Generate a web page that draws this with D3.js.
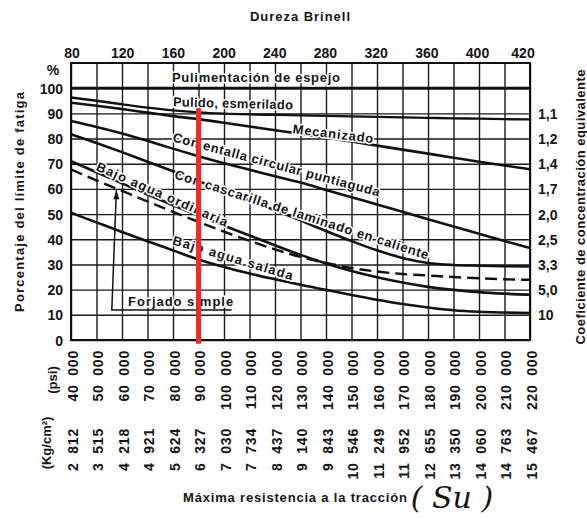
<!DOCTYPE html>
<html>
<head>
<meta charset="utf-8">
<script src="https://cdn.jsdelivr.net/npm/d3@7"></script>
<style>
  body { margin: 0; background: #fff; }
  svg text { font-family: "Liberation Sans", Arial, sans-serif; font-weight: bold; fill: #141414; }
</style>
</head>
<body>
<div id="container"></div>
<script>
// tensile strength grid (psi) and its kg/cm2 equivalents
const psiTicks = d3.range(40000, 220001, 10000);
const kgLabels = ["2 812", "3 515", "4 218", "4 921", "5 624", "6 327", "7 030", "7 734", "8 437", "9 140",
  "9 843", "10 546", "11 249", "11 952", "12 655", "13 350", "14 060", "14 763", "15 467"];
const brinellTicks = [80, 120, 160, 200, 240, 280, 320, 360, 400];
const brinellLast = 420;
const pctTicks = [0, 10, 20, 30, 40, 50, 60, 70, 80, 90, 100];
const coefTicks = [90, 80, 70, 60, 50, 40, 30, 20, 10];
const coefLabels = ["1,1", "1,2", "1,4", "1,7", "2,0", "2,5", "3,3", "5,0", "10"];

// percent of fatigue limit, one value per psiTicks entry
const espejo = [100, 100, 100, 100, 100, 100, 100, 100, 100, 100, 100, 100, 100, 100, 100, 100, 100, 100, 100];
const pulido = [96.3, 95.0, 93.6, 92.3, 91.2, 90.4, 89.9, 89.6, 89.4, 89.2, 89.0, 88.8, 88.6, 88.4, 88.2, 88.0, 87.9, 87.7, 87.6];
const mecanizado = [94.2, 93.0, 91.7, 90.3, 88.9, 87.7, 86.3, 84.8, 83.3, 81.9, 80.4, 78.8, 77.2, 75.6, 74.0, 72.4, 70.8, 69.3, 67.8];
const entalla = [87.0, 84.6, 82.0, 79.1, 76.0, 73.0, 70.2, 67.6, 65.0, 62.5, 59.6, 56.7, 53.8, 50.9, 48.0, 45.1, 42.2, 39.3, 36.5];
const cascarilla = [81.7, 78.2, 74.6, 70.8, 67.0, 63.1, 59.3, 55.4, 51.5, 47.5, 43.3, 39.3, 35.6, 32.6, 30.6, 29.8, 29.5, 29.3, 29.2];
const ordinaria = [71.0, 66.6, 62.2, 57.8, 53.5, 49.4, 45.4, 41.5, 37.6, 33.8, 30.4, 27.4, 24.9, 22.8, 21.1, 19.9, 19.0, 18.4, 18.0];
const forjado = [67.7, 63.4, 59.2, 55.0, 50.9, 46.9, 43.0, 39.4, 36.0, 33.0, 30.6, 28.6, 27.2, 26.2, 25.6, 25.0, 24.5, 24.1, 23.9];
const salada = [50.5, 46.7, 42.9, 39.2, 35.6, 32.0, 29.0, 26.4, 24.1, 21.9, 19.9, 17.9, 16.0, 14.3, 12.9, 11.8, 11.2, 10.9, 10.7];

// red marker drawn over the chart
const markerPsi = 90000;
const markerPct = [92, -1.5];

const width = 587, height = 519;

const x = d3.scaleLinear().domain([40000, 220000]).range([71, 530]);
const xb = d3.scaleLinear().domain([80, 400]).range([71.5, 477]);
const y = d3.scaleLinear().domain([0, 110]).range([340, 63]);

const svg = d3.select("#container").append("svg")
  .attr("width", width)
  .attr("height", height)
  .style("background", "#fff");

// grid
const gridX = svg.append("g")
  .attr("transform", `translate(0,${y(0)})`)
  .call(d3.axisBottom(x).tickValues(psiTicks).tickSize(-(y(0) - y(110))).tickFormat(""));
const gridY = svg.append("g")
  .attr("transform", `translate(${x(40000)},0)`)
  .call(d3.axisLeft(y).tickValues(pctTicks).tickSize(-(x(220000) - x(40000))).tickFormat(""));
[gridX, gridY].forEach(g => {
  g.select(".domain").remove();
  g.selectAll("line").attr("stroke", "#1a1a1a").attr("stroke-width", 1.4);
});

svg.append("rect")
  .attr("x", x(40000)).attr("y", y(110))
  .attr("width", x(220000) - x(40000)).attr("height", y(0) - y(110))
  .attr("fill", "none").attr("stroke", "#111").attr("stroke-width", 2);

// curves
const line = d3.line()
  .x((d, i) => x(psiTicks[i]))
  .y(d => y(d))
  .curve(d3.curveMonotoneX);

const series = [
  { values: espejo, dash: null, w: 2.8 },
  { values: pulido, dash: null, w: 2.4 },
  { values: mecanizado, dash: null, w: 2.6 },
  { values: entalla, dash: null, w: 2.6 },
  { values: cascarilla, dash: null, w: 2.6 },
  { values: ordinaria, dash: null, w: 2.6 },
  { values: forjado, dash: "12,6", w: 2.4 },
  { values: salada, dash: null, w: 2.6 }
];

svg.append("g").selectAll("path")
  .data(series)
  .join("path")
  .attr("d", d => line(d.values))
  .attr("fill", "none")
  .attr("stroke", "#111")
  .attr("stroke-width", d => d.w)
  .attr("stroke-dasharray", d => d.dash);

// curve labels (start psi, centre pct, angle, length)
const labels = [
  { text: "Pulimentación de espejo", psi: 79600, pct: 104.0, angle: 0, len: 168 },
  { text: "Pulido, esmerilado", psi: 80000, pct: 94.5, angle: 1.5, len: 120 },
  { text: "Mecanizado", psi: 127000, pct: 83.8, angle: 7, len: 81 },
  { text: "Con entalla circular puntiaguda", psi: 80000, pct: 80.6, angle: 15, len: 214 },
  { text: "Con cascarilla de laminado en caliente", psi: 80800, pct: 65.9, angle: 17.8, len: 266 },
  { text: "Bajo agua ordinaria", psi: 50200, pct: 69.1, angle: 23.6, len: 142 },
  { text: "Bajo agua salada", psi: 80000, pct: 39.7, angle: 16.8, len: 125 },
  { text: "Forjado simple", psi: 62400, pct: 15.1, angle: 0, len: 105 }
];

svg.append("g").selectAll("text")
  .data(labels)
  .join("text")
  .attr("transform", d => `translate(${x(d.psi)},${y(d.pct)}) rotate(${d.angle})`)
  .attr("dy", "0.33em")
  .attr("textLength", d => d.len)
  .attr("lengthAdjust", "spacing")
  .style("font-size", "13px")
  .attr("stroke", "#fff")
  .attr("stroke-width", 3)
  .attr("paint-order", "stroke")
  .text(d => d.text);

// leader for "Forjado simple"
const leaderPsi = [57800, 56000, 103000];
const leaderPct = [59.5, 11.9, 11.9];
svg.append("path")
  .attr("d", d3.line()(leaderPsi.map((p, i) => [x(p), y(leaderPct[i])])))
  .attr("fill", "none").attr("stroke", "#111").attr("stroke-width", 1.5);
svg.append("path")
  .attr("d", `M${x(57800)},${y(59.5)} l-3,9 l6,0 z`)
  .attr("fill", "#111");

// red marker
svg.append("line")
  .attr("x1", x(markerPsi)).attr("x2", x(markerPsi))
  .attr("y1", y(markerPct[0])).attr("y2", y(markerPct[1]))
  .attr("stroke", "#ee2a2a").attr("stroke-width", 5);

// top axis: Brinell (last label pushed to the frame's right end)
const topAxis = svg.append("g")
  .attr("transform", `translate(0,${y(110)})`)
  .call(d3.axisTop(xb).tickValues(brinellTicks).tickSize(0).tickPadding(5));
topAxis.append("text")
  .attr("x", x(220000) - 7).attr("y", -5)
  .attr("text-anchor", "middle")
  .text(brinellLast);

// left axis: percent
const leftAxis = svg.append("g")
  .attr("transform", `translate(${x(40000)},0)`)
  .call(d3.axisLeft(y).tickValues(pctTicks).tickSize(0).tickPadding(8));

// right axis: concentration coefficient
const rightAxis = svg.append("g")
  .attr("transform", `translate(${x(220000)},0)`)
  .call(d3.axisRight(y).tickValues(coefTicks).tickSize(0).tickPadding(8)
    .tickFormat((d, i) => coefLabels[i]));

// bottom axes: psi and kg/cm2, rotated
const psiAxis = svg.append("g")
  .attr("transform", `translate(1,${y(0)})`)
  .call(d3.axisBottom(x).tickValues(psiTicks).tickSize(0)
    .tickFormat(d => `${d / 1000}\u2007000`));
psiAxis.selectAll("text")
  .attr("transform", "rotate(-90)")
  .attr("text-anchor", "end")
  .attr("x", -10).attr("y", 0).attr("dy", "0.36em");

const kgAxis = svg.append("g")
  .attr("transform", `translate(1,${y(0)})`)
  .call(d3.axisBottom(x).tickValues(psiTicks).tickSize(0)
    .tickFormat((d, i) => kgLabels[i].replace(" ", "\u2007")));
kgAxis.selectAll("text")
  .attr("transform", "rotate(-90)")
  .attr("text-anchor", "end")
  .attr("x", -88).attr("y", 0).attr("dy", "0.36em");

[topAxis, leftAxis, rightAxis, psiAxis, kgAxis].forEach(g => {
  g.select(".domain").remove();
  g.selectAll("text")
    .style("font-family", "'Liberation Sans', Arial, sans-serif")
    .style("font-weight", "bold")
    .style("font-size", "14px")
    .attr("fill", "#141414");
});
[psiAxis, kgAxis].forEach(g => g.selectAll("text").style("letter-spacing", "0.8px"));
leftAxis.selectAll("text").attr("dy", "0.36em");
rightAxis.selectAll("text").attr("dy", "0.36em");

// titles
svg.append("text")
  .attr("x", 300).attr("y", 21)
  .attr("text-anchor", "middle")
  .style("font-size", "13px")
  .attr("textLength", 100)
  .text("Dureza Brinell");

svg.append("text")
  .attr("x", 53).attr("y", 75)
  .attr("text-anchor", "middle")
  .style("font-size", "14px")
  .text("%");

svg.append("text")
  .attr("transform", "translate(19,202) rotate(-90)")
  .attr("text-anchor", "middle")
  .attr("dy", "0.35em")
  .style("font-size", "13px")
  .attr("textLength", 220)
  .text("Porcentaje del límite de fatiga");

svg.append("text")
  .attr("transform", "translate(580,207) rotate(-90)")
  .attr("text-anchor", "middle")
  .attr("dy", "0.35em")
  .style("font-size", "13px")
  .attr("textLength", 275)
  .text("Coeficiente de concentración equivalente");

svg.append("text")
  .attr("transform", "translate(52,380) rotate(-90)")
  .attr("text-anchor", "middle")
  .attr("dy", "0.35em")
  .style("font-size", "13px")
  .text("(psi)");

svg.append("text")
  .attr("transform", "translate(46,443) rotate(-90)")
  .attr("text-anchor", "middle")
  .attr("dy", "0.35em")
  .style("font-size", "13px")
  .text("(Kg/cm²)");

svg.append("text")
  .attr("x", 295).attr("y", 502)
  .attr("text-anchor", "middle")
  .style("font-size", "13px")
  .attr("textLength", 224)
  .text("Máxima resistencia a la tracción");

// handwritten note
svg.append("text")
  .attr("x", 452).attr("y", 508)
  .attr("text-anchor", "middle")
  .style("font-family", "'DejaVu Serif', serif")
  .style("font-style", "italic")
  .style("font-weight", "normal")
  .style("font-size", "30px")
  .attr("fill", "#222")
  .text("( Su )");
</script>
</body>
</html>
